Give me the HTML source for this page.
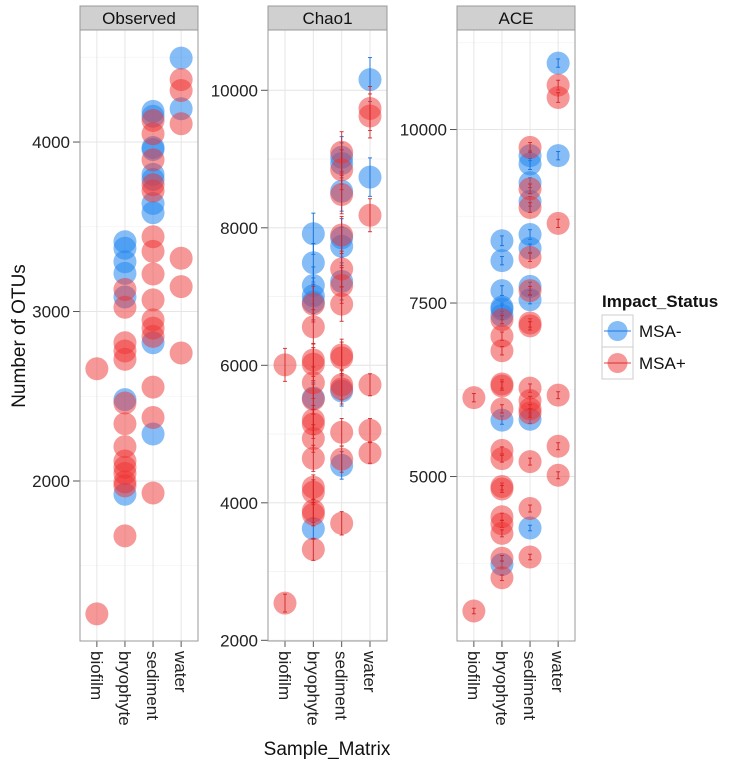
<!DOCTYPE html>
<html><head><meta charset="utf-8"><style>
body{margin:0;background:#fff;}
svg{display:block;font-family:"Liberation Sans",Arial,sans-serif;}
</style></head><body>
<svg id="chart" width="729" height="768" viewBox="0 0 729 768"></svg>
<script>
// ---- data ----
const categories = ["biofilm","bryophyte","sediment","water"];
const panelTitles = ["Observed","Chao1","ACE"];
const groups = ["MSA-","MSA+"];
// Observed (no error bars)
const obsBlueCat = [2,2,2,2,2,2,2, 3,3,3,3,3,3,3,3,3,3, 4,4];
const obsBlueVal = [3412,3373,3294,3225,3086,2480,1922, 4181,4152,3968,3956,3809,3779,3637,3583,2816,2277, 4495,4196];
const obsRedCat = [1,1, 2,2,2,2,2,2,2,2,2,2,2,2,2,2, 3,3,3,3,3,3,3,3,3,3,3,3,3,3,3, 4,4,4,4,4,4];
const obsRedVal = [2662,1216, 3130,3025,2816,2767,2718,2460,2338,2203,2118,2081,2044,1995,1971,1676, 4127,4049,3895,3748,3711,3441,3355,3221,3069,2951,2902,2853,2554,2375,1929, 4368,4304,4108,3314,3147,2755];
// Chao1
const chaoBlueCat = [2,2,2,2,2,2,2, 3,3,3,3,3,3,3,3, 4,4];
const chaoBlueVal = [7913,7492,7161,7011,6920,5525,3624, 9026,8935,8532,7853,7732,7221,5627,4544, 10156,8737];
const chaoBlueErr = [300,280,270,260,260,230,150, 300,300,290,280,280,270,220,200, 320,280];
const chaoRedCat = [1,1, 2,2,2,2,2,2,2,2,2,2,2,2,2,2,2, 3,3,3,3,3,3,3,3,3,3,3,3,3,3, 4,4,4,4,4,4];
const chaoRedVal = [6006,2541, 6890,6559,6078,6018,5747,5507,5206,5146,4935,4647,4226,4154,3883,3835,3323, 9098,8845,8484,7895,7401,7161,6890,6150,6108,5717,5657,5026,4635,3702, 9735,9627,8183,5717,5056,4725];
const chaoRedErr = [240,130, 260,250,240,240,230,220,210,210,200,190,180,180,170,170,160, 300,290,280,270,260,260,250,230,230,220,220,200,190,170, 320,320,240,160,170,150];
// ACE
const aceBlueCat = [2,2,2,2,2,2,2,2, 3,3,3,3,3,3,3,3,3,3, 4,4];
const aceBlueVal = [8397,8110,7679,7440,7410,7321,5813,3732, 9623,9504,9234,8965,8487,8290,7739,7548,5825,4258, 10957,9623];
const aceBlueErr = [70,60,70,60,60,60,60,50, 70,80,70,70,70,60,60,60,60,40, 60,60];
const aceRedCat = [1,1, 2,2,2,2,2,2,2,2,2,2,2,2,2,2,2, 3,3,3,3,3,3,3,3,3,3,3,3,3,3, 4,4,4,4,4,4];
const aceRedVal = [6136,3062, 7261,7022,6812,6334,6304,5975,5377,5257,4856,4821,4420,4318,4181,3822,3541, 9743,9145,8876,8158,7679,7213,7171,6274,6095,5975,5915,5215,4539,3840, 10640,10461,8648,6172,5437,5018];
const aceRedErr = [60,40, 60,60,60,60,60,60,50,50,50,50,50,50,50,40,40, 70,70,70,60,60,60,60,60,60,60,60,50,50,40, 70,70,60,50,50,50];
const obsTicks = [2000,3000,4000];
const chaoTicks = [2000,4000,6000,8000,10000];
const aceTicks = [5000,7500,10000];

// ---- layout ----
const NS="http://www.w3.org/2000/svg";
const svg=document.getElementById('chart');
function mk(tag,attrs,parent){const e=document.createElementNS(NS,tag);for(const k in attrs)e.setAttribute(k,attrs[k]);(parent||svg).appendChild(e);return e;}
const PT=30, PB=641;
const panels=[
 {x0:80,x1:198,dom:[1056,4661],ticks:obsTicks,minorStep:500,blue:[obsBlueCat,obsBlueVal,null],red:[obsRedCat,obsRedVal,null]},
 {x0:268,x1:387,dom:[1990,10877],ticks:chaoTicks,minorStep:1000,blue:[chaoBlueCat,chaoBlueVal,chaoBlueErr],red:[chaoRedCat,chaoRedVal,chaoRedErr]},
 {x0:457,x1:575,dom:[2630,11434],ticks:aceTicks,minorStep:1250,blue:[aceBlueCat,aceBlueVal,aceBlueErr],red:[aceRedCat,aceRedVal,aceRedErr]}
];
const fillC={blue:"rgba(35,135,240,0.55)",red:"rgba(240,50,50,0.5)"};
const errC={blue:"rgba(20,110,220,0.9)",red:"rgba(210,30,30,0.85)"};

panels.forEach((p,pi)=>{
  const g=mk('g',{});
  
  
  const ys=v=>PB-(v-p.dom[0])/(p.dom[1]-p.dom[0])*(PB-PT);
  const xs=c=>p.x0+(c-0.4)/4.2*(p.x1-p.x0);
  mk('rect',{x:p.x0,y:PT,width:p.x1-p.x0,height:PB-PT,fill:'#fff'},g);
  for(let v=Math.ceil(p.dom[0]/p.minorStep)*p.minorStep; v<=p.dom[1]; v+=p.minorStep){
    mk('line',{x1:p.x0,x2:p.x1,y1:ys(v),y2:ys(v),stroke:'#f3f3f3','stroke-width':0.8},g);
  }
  p.ticks.forEach(t=>{
    const y=ys(t);
    mk('line',{x1:p.x0,x2:p.x1,y1:y,y2:y,stroke:'#e6e6e6','stroke-width':1},g);
    mk('line',{x1:p.x0-7,x2:p.x0,y1:y,y2:y,stroke:'#555','stroke-width':1},g);
    const tl=mk('text',{x:p.x0-10,y:y+6,'text-anchor':'end','font-size':17,fill:'#222'},g);
    tl.textContent=t;
    
    
  });
  categories.forEach((c,i)=>{
    const x=xs(i+1);
    mk('line',{x1:x,x2:x,y1:PT,y2:PB,stroke:'#e6e6e6','stroke-width':1},g);
    mk('line',{x1:x,x2:x,y1:PB,y2:PB+6,stroke:'#555','stroke-width':1},g);
    const tl=mk('text',{x:0,y:0,transform:`translate(${x-6},${PB+10}) rotate(90)`,'font-size':17,fill:'#222'},g);
    tl.textContent=c;
    
    
  });
  ['blue','red'].forEach(col=>{
    const [cats,vals,errs]=p[col];
    vals.forEach((v,i)=>{
      const cx=xs(cats[i]), cy=ys(v);
      const pt=mk('circle',{cx:cx,cy:cy,r:11.5,fill:fillC[col]},g);
      
      
      if(errs){
        const e=errs[i], y1=ys(v+e), y2=ys(v-e);
        mk('line',{x1:cx,x2:cx,y1:y1,y2:y2,stroke:errC[col],'stroke-width':1},g);
        mk('line',{x1:cx-2,x2:cx+2,y1:y1,y2:y1,stroke:errC[col],'stroke-width':1},g);
        mk('line',{x1:cx-2,x2:cx+2,y1:y2,y2:y2,stroke:errC[col],'stroke-width':1},g);
      }
    });
  });
  mk('rect',{x:p.x0,y:PT,width:p.x1-p.x0,height:PB-PT,fill:'none',stroke:'#999','stroke-width':1},g);
  const st=mk('rect',{x:p.x0,y:6,width:p.x1-p.x0,height:PT-6,fill:'#d0d0d0',stroke:'#999','stroke-width':1},g);
  
  
  const stt=mk('text',{x:(p.x0+p.x1)/2,y:24,'text-anchor':'middle','font-size':17,fill:'#111'},g);
  stt.textContent=panelTitles[pi];
  
  
});
const xt=mk('text',{x:327,y:755,'text-anchor':'middle','font-size':19,fill:'#111'});
xt.textContent="Sample_Matrix";


const yt=mk('text',{x:0,y:0,transform:'translate(25,336) rotate(-90)','text-anchor':'middle','font-size':19,fill:'#111'});
yt.textContent="Number of OTUs";


const lg=mk('g',{});


const lt=mk('text',{x:602,y:307,'font-size':17,'font-weight':'bold',fill:'#111'},lg);
lt.textContent="Impact_Status";


groups.forEach((gname,i)=>{
  const col=i===0?'blue':'red';
  const y=315+i*32;
  const e=mk('g',{},lg);
  
  
  mk('rect',{x:602,y:y,width:31,height:32,fill:'#fff',stroke:'#ccc','stroke-width':1},e);
  mk('circle',{cx:617.5,cy:y+16,r:10,fill:fillC[col]},e);
  mk('line',{x1:604,x2:631,y1:y+16,y2:y+16,stroke:errC[col],'stroke-width':1},e);
  const t=mk('text',{x:639,y:y+22,'font-size':17,fill:'#111'},e);
  t.textContent=gname;
});
</script>
</body></html>
